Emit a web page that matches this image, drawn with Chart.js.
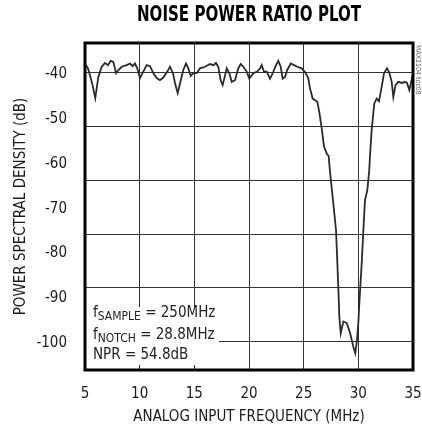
<!DOCTYPE html>
<html>
<head>
<meta charset="utf-8">
<script src="https://cdn.jsdelivr.net/npm/chart.js@4.4.1/dist/chart.umd.min.js"></script>
<style>
  html, body { margin: 0; padding: 0; background: #fff; }
</style>
</head>
<body>
<canvas id="myChart" width="422" height="429"></canvas>
<script>
const freq = [5.09, 5.27, 5.46, 5.69, 5.94, 6.22, 6.53, 6.83, 7.10, 7.35, 7.59, 7.84, 8.05, 8.36, 8.81, 9.12, 9.36, 9.57, 9.78, 10.03,
  10.33, 10.64, 10.95, 11.25, 11.56, 11.86, 12.16, 12.53, 12.77, 13.05, 13.23, 13.48, 13.69, 13.99, 14.24, 14.45, 14.67, 14.91, 15.22, 15.52,
  15.98, 16.43, 16.74, 16.98, 17.19, 17.41, 17.59, 17.81, 17.96, 18.20, 18.42, 18.72, 19.02, 19.24, 19.48, 19.79, 20.03, 20.39, 20.76, 21.01,
  21.16, 21.37, 21.62, 21.92, 22.17, 22.47, 22.68, 22.90, 23.08, 23.29, 23.50, 23.82, 24.12, 24.42, 24.82, 25.12, 25.42, 25.58, 25.82, 26.04,
  26.25, 26.43, 26.65, 26.86, 27.11, 27.29, 27.41, 27.71, 27.96, 28.08, 28.20, 28.26, 28.39, 28.63, 28.94, 29.24, 29.54, 29.72, 29.88, 30.00,
  30.09, 30.31, 30.46, 30.61, 30.82, 31.00, 31.07, 31.22, 31.46, 31.68, 31.89, 32.14, 32.35, 32.62, 32.81, 33.05, 33.20, 33.40, 33.66, 34.00,
  34.27, 34.45, 34.66, 34.88, 34.95];
const psd = [-38.7, -39.3, -40.6, -42.4, -44.8, -40.9, -39.0, -38.3, -38.7, -37.9, -38.1, -40.2, -39.6, -39.0, -38.7, -38.4, -38.9, -38.4, -39.3, -41.1,
  -39.9, -38.7, -38.9, -40.2, -41.1, -41.5, -41.0, -39.9, -39.0, -40.2, -42.0, -43.9, -42.1, -39.6, -38.4, -39.3, -40.7, -40.2, -40.2, -39.3,
  -39.0, -38.5, -38.7, -38.3, -39.0, -41.5, -42.4, -40.6, -39.3, -40.2, -41.8, -41.5, -39.3, -38.5, -39.0, -39.9, -41.2, -40.2, -39.9, -39.3,
  -38.7, -39.9, -39.9, -41.2, -40.2, -38.7, -37.9, -39.0, -41.2, -40.9, -39.6, -38.4, -38.7, -39.0, -39.3, -40.0, -41.1, -43.0, -44.9, -45.2,
  -45.5, -47.4, -50.4, -53.8, -55.1, -55.6, -58.5, -64.3, -69.3, -75.4, -81.6, -85.3, -88.4, -86.2, -86.5, -88.3, -90.9, -92.1, -89.6, -86.5,
  -82.8, -75.4, -69.3, -63.7, -61.9, -58.1, -55.4, -50.7, -45.8, -44.9, -45.4, -42.7, -40.2, -39.3, -40.0, -41.8, -44.6, -42.4, -41.8, -42.0,
  -41.8, -42.0, -43.3, -41.4, -40.7];

const xTicks = [5, 10, 15, 20, 25, 30, 35];
const yTickLabels = [-40, -50, -60, -70, -80, -90, -100];
const gridDb = [-40, -50, -60, -70, -80, -90];

const chartTitle = 'NOISE POWER RATIO PLOT';
const notes = [
  ['f', 'SAMPLE', ' = 250MHz'],
  ['f', 'NOTCH', ' = 28.8MHz'],
  ['NPR = 54.8dB', '', '']
];

const FONT = '"Liberation Sans Narrow", "Arial Narrow", "DejaVu Sans Condensed", sans-serif';

const plotDecor = {
  id: 'plotDecor',
  beforeDatasetsDraw(chart) {
    const c = chart.ctx, a = chart.chartArea;
    c.save();
    c.fillStyle = '#fff';
    c.fillRect(a.left + 1, a.bottom - 63, 133, 58);
    c.fillStyle = '#222';
    c.textBaseline = 'middle';
    const rows = [a.bottom - 57, a.bottom - 35, a.bottom - 15];
    notes.forEach((n, i) => {
      let x = a.left + 8;
      c.font = '15px ' + FONT;
      c.fillText(n[0], x, rows[i]);
      x += c.measureText(n[0]).width;
      if (n[1]) {
        c.font = '12px ' + FONT;
        c.fillText(n[1], x, rows[i] + 4);
        x += c.measureText(n[1]).width;
        c.font = '15px ' + FONT;
        c.fillText(n[2], x, rows[i]);
      }
    });
    c.restore();
  },
  afterDraw(chart) {
    const c = chart.ctx, a = chart.chartArea;
    c.save();
    c.strokeStyle = '#000';
    c.lineWidth = 3;
    c.strokeRect(a.left, a.top, a.right - a.left, a.bottom - a.top);

    // heading, squeezed to the condensed look of the original
    c.font = 'bold 20px ' + FONT;
    c.fillStyle = '#000';
    c.textAlign = 'center';
    c.textBaseline = 'middle';
    const w = c.measureText(chartTitle).width;
    c.save();
    c.translate((a.left + a.right) / 2, 16);
    c.scale(Math.min(1, 224 / w), 1.05);
    c.fillText(chartTitle, 0, 0);
    c.restore();

    c.translate(a.right + 5, a.top + 2);
    c.rotate(Math.PI / 2);
    c.fillStyle = '#666';
    c.font = '7px ' + FONT;
    c.textAlign = 'left';
    c.fillText('MAX1104 toc08', 0, 0);
    c.restore();
  }
};

const ctx = document.getElementById('myChart').getContext('2d');
const myChart = new Chart(ctx, {
  type: 'line',
  data: {
    datasets: [{
      data: freq.map((f, i) => ({ x: f, y: psd[i] })),
      yAxisID: 'yGrid',
      borderColor: '#2a2a2a',
      borderWidth: 1.8,
      pointRadius: 0,
      tension: 0,
      fill: false
    }]
  },
  options: {
    responsive: false,
    animation: false,
    layout: { padding: { top: 43, left: 0, right: 0, bottom: 0 } },
    plugins: {
      legend: { display: false },
      tooltip: { enabled: false },
      title: { display: false }
    },
    scales: {
      x: {
        type: 'linear',
        min: 5,
        max: 35,
        afterBuildTicks: s => { s.ticks = xTicks.map(v => ({ value: v })); },
        afterFit: s => { s.height = 59; s.paddingLeft = 0; s.paddingRight = 0; },
        grid: { color: '#333', lineWidth: 1, drawTicks: false },
        border: { display: false },
        ticks: { color: '#1a1a1a', font: { family: FONT, size: 15 }, padding: 15, maxRotation: 0 },
        title: {
          display: true,
          text: 'ANALOG INPUT FREQUENCY (MHz)',
          color: '#1a1a1a',
          font: { family: FONT, size: 15 },
          padding: { top: 0, bottom: 3 }
        }
      },
      y: {
        type: 'linear',
        position: 'left',
        min: -106.03,
        max: -32.96,
        afterBuildTicks: s => { s.ticks = yTickLabels.map(v => ({ value: v })); },
        afterFit: s => { s.width = 85; s.paddingTop = 0; s.paddingBottom = 0; },
        grid: { display: false, drawTicks: false },
        border: { display: false },
        ticks: { color: '#1a1a1a', font: { family: FONT, size: 15 }, padding: 18 },
        title: {
          display: true,
          text: 'POWER SPECTRAL DENSITY (dB)',
          color: '#1a1a1a',
          font: { family: FONT, size: 15 },
          padding: { top: 12, bottom: 0 }
        }
      },
      yGrid: {
        type: 'linear',
        position: 'right',
        min: -95.2,
        max: -34.6,
        afterBuildTicks: s => { s.ticks = gridDb.map(v => ({ value: v })); },
        afterFit: s => { s.width = 9; s.paddingTop = 0; s.paddingBottom = 0; },
        grid: { color: '#333', lineWidth: 1, drawTicks: false },
        border: { display: false },
        ticks: { display: false }
      }
    }
  },
  plugins: [plotDecor]
});
</script>
</body>
</html>
